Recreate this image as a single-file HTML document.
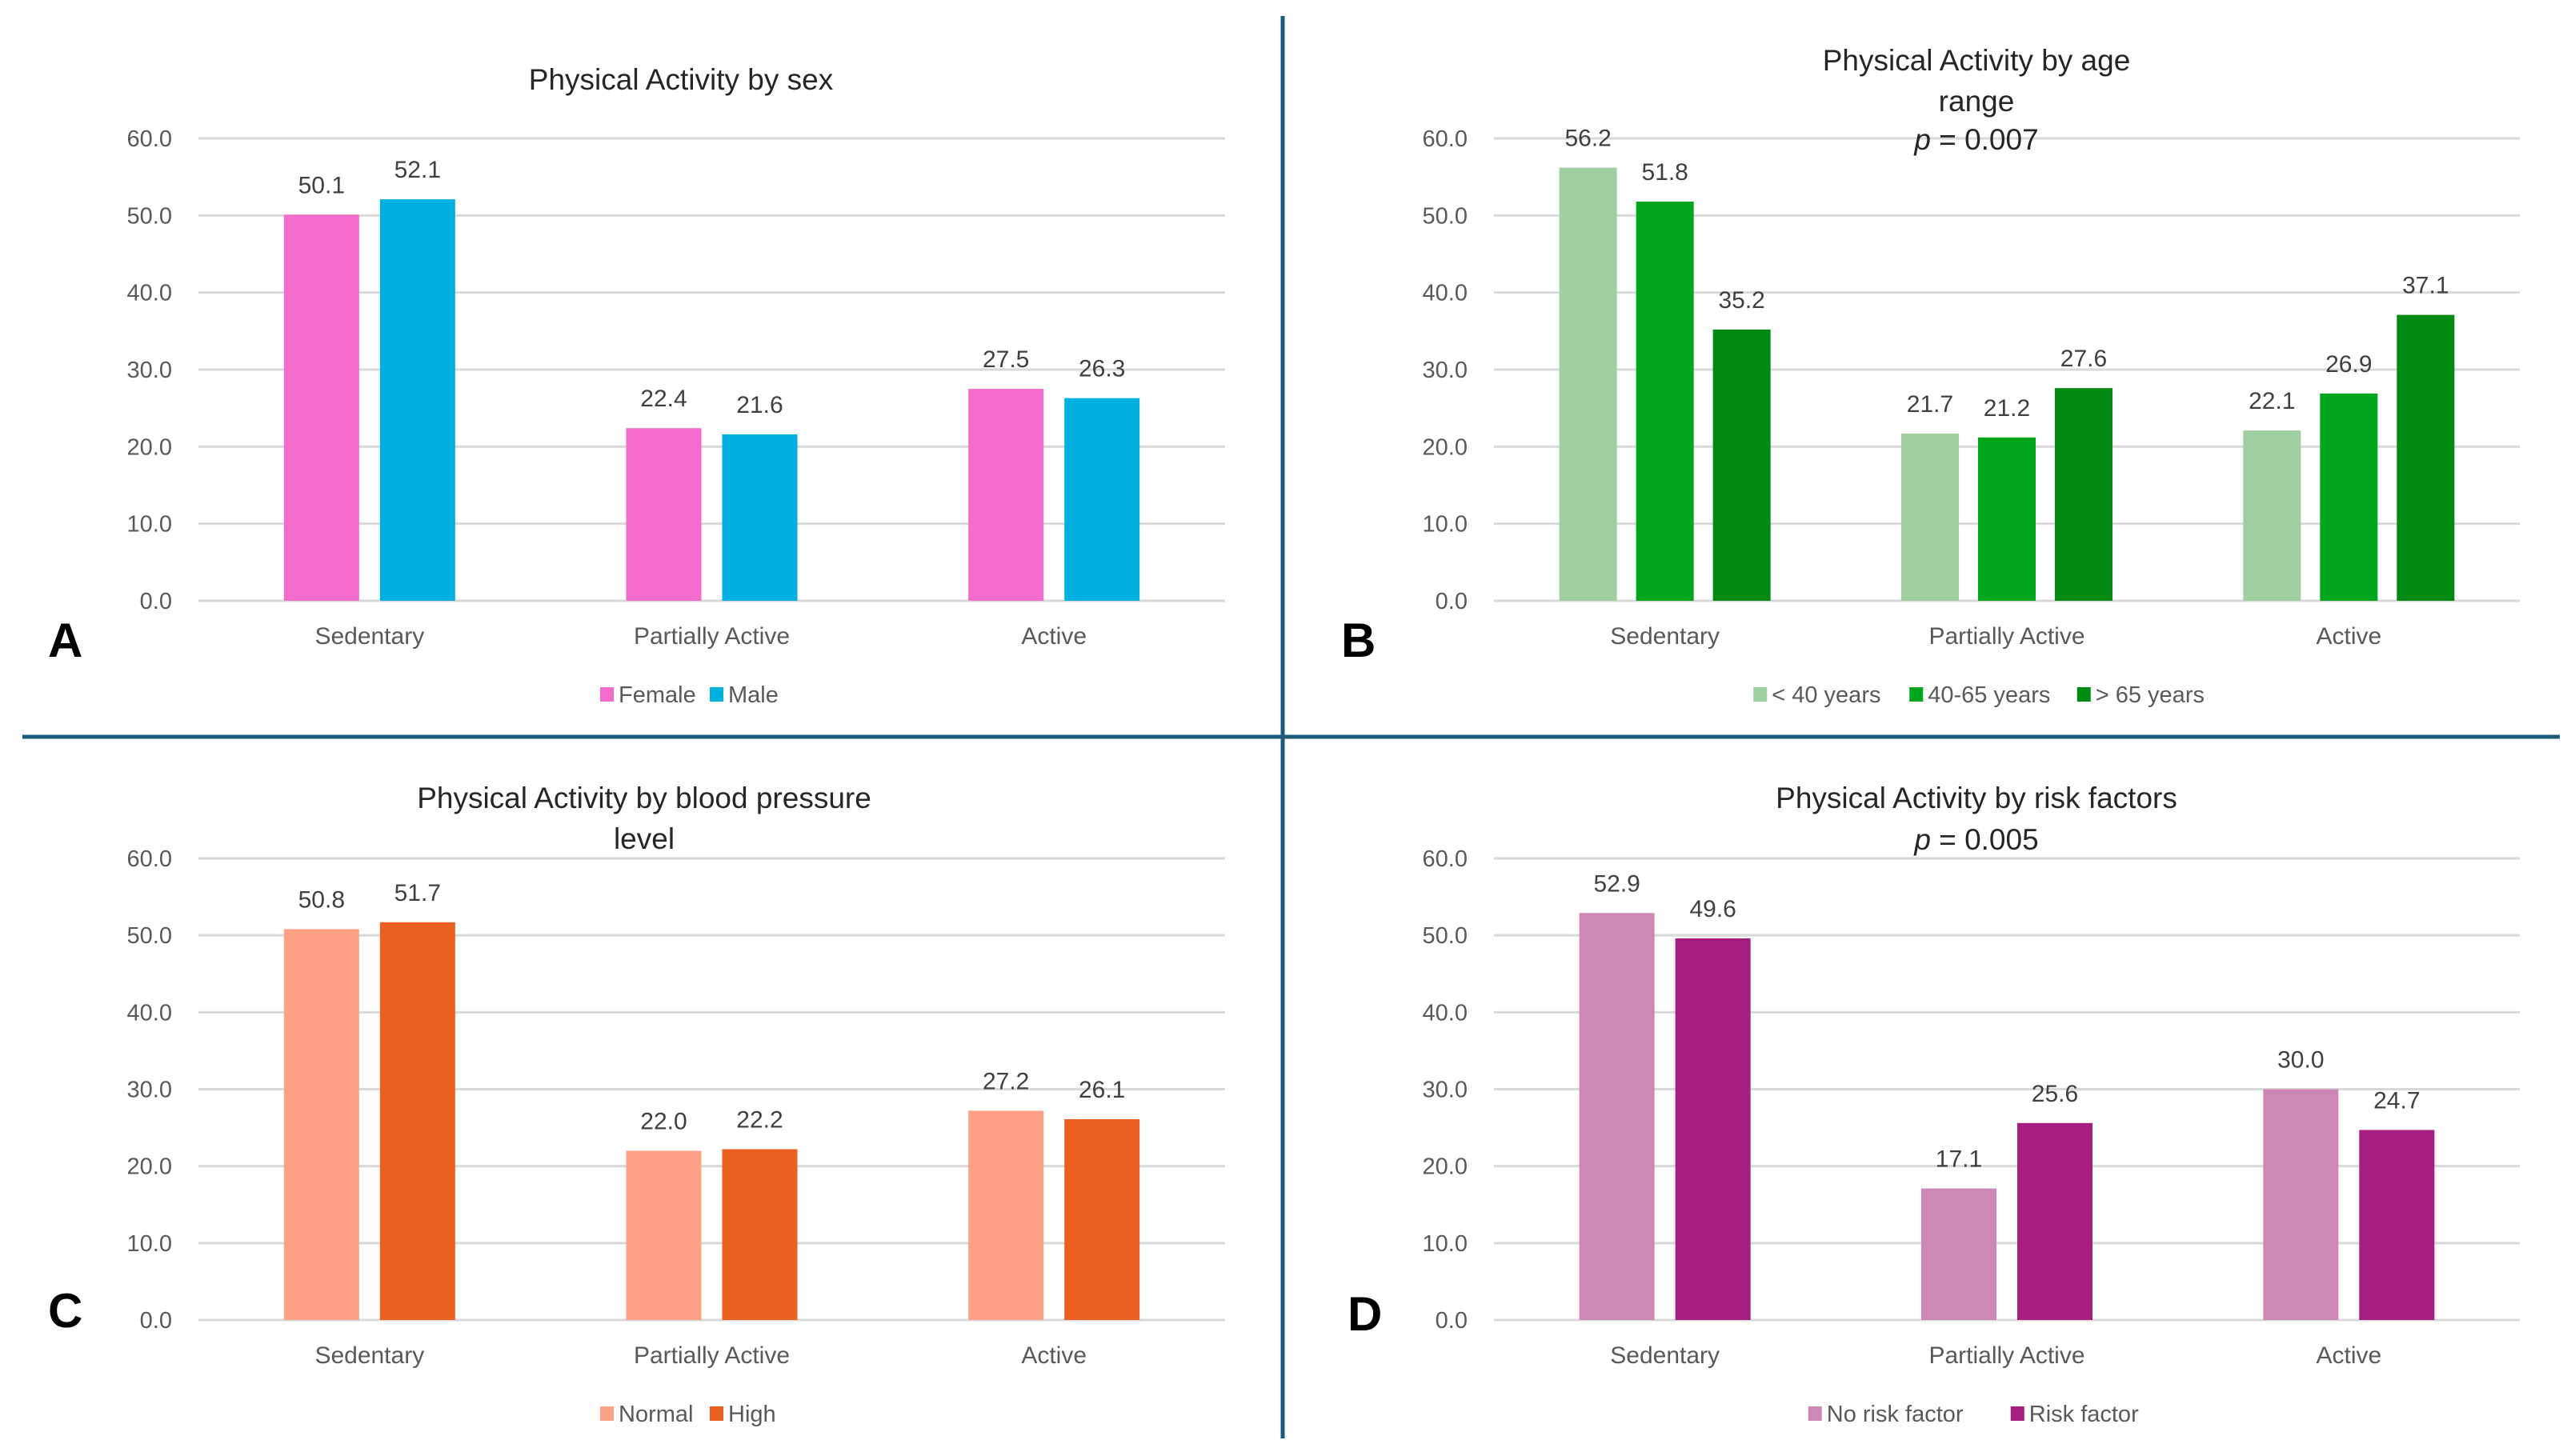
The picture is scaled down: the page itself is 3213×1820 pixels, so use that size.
<!DOCTYPE html>
<html><head><meta charset="utf-8">
<style>
html,body{margin:0;padding:0;background:#fff;}
svg{display:block;font-family:"Liberation Sans",Arial,sans-serif;}
</style></head>
<body>
<svg id="fig" width="3213" height="1820" viewBox="0 0 3213 1820" xmlns="http://www.w3.org/2000/svg">
<rect width="3213" height="1820" fill="#fff"/>
<line x1="1603" y1="20" x2="1603" y2="1798" stroke="#1b5b79" stroke-width="5"/>
<line x1="28" y1="921" x2="3199" y2="921" stroke="#1b5b79" stroke-width="5"/>
</svg>
<script>
const categories = ["Sedentary","Partially Active","Active"];
const yTicks = [0,10,20,30,40,50,60];
const yTickLabels = ["0.0","10.0","20.0","30.0","40.0","50.0","60.0"];

const sexSeriesNames = ["Female","Male"];
const sexFemale = [50.1,22.4,27.5];
const sexMale = [52.1,21.6,26.3];

const ageSeriesNames = ["< 40 years","40-65 years","> 65 years"];
const ageUnder40 = [56.2,21.7,22.1];
const age40to65 = [51.8,21.2,26.9];
const ageOver65 = [35.2,27.6,37.1];

const bpSeriesNames = ["Normal","High"];
const bpNormal = [50.8,22.0,27.2];
const bpHigh = [51.7,22.2,26.1];

const riskSeriesNames = ["No risk factor","Risk factor"];
const riskNone = [52.9,17.1,30.0];
const riskPresent = [49.6,25.6,24.7];

const NS = "http://www.w3.org/2000/svg";
const svg = document.getElementById("fig");
function mk(tag, attrs, parent){
  const e = document.createElementNS(NS, tag);
  for (const k in attrs) e.setAttribute(k, attrs[k]);
  (parent||svg).appendChild(e);
  return e;
}

function panel(cfg){
  const g = mk("g", {});
  
  
  const x0 = cfg.x0, x1 = cfg.x1, yTop = cfg.yTop, yBot = cfg.yBot;
  const yScale = v => yBot - (v/60)*(yBot-yTop);
  const catW = (x1-x0)/categories.length;
  const xCat = i => x0 + catW*(i+0.5);
  // gridlines & ticks
  yTicks.forEach((t,i)=>{
    const gl = mk("line",{x1:x0,x2:x1,y1:yScale(t),y2:yScale(t),stroke:"#d9d9d9","stroke-width":3},g);
    
    
    const tl = mk("text",{x:cfg.tickX,y:yScale(t)+10,"text-anchor":"end","font-size":29,fill:"#595959"},g);
    
    
    tl.textContent = yTickLabels[i];
  });
  // bars
  const n = cfg.series.length;
  const bw = cfg.barW, gap = cfg.gap;
  const span = n*bw + (n-1)*gap;
  cfg.series.forEach((vals,s)=>{
    vals.forEach((v,i)=>{
      const bx = xCat(i) - span/2 + s*(bw+gap);
      const r = mk("rect",{x:bx,y:yScale(v),width:bw,height:yBot-yScale(v),fill:cfg.colors[s]},g);
      
      
      const lb = mk("text",{x:bx+bw/2,y:yScale(v)-27,"text-anchor":"middle","font-size":30,fill:"#404040"},g);
      
      
      lb.textContent = v.toFixed(1);
    });
  });
  // category labels
  categories.forEach((c,i)=>{
    const t = mk("text",{x:xCat(i),y:cfg.catY+11,"text-anchor":"middle","font-size":30,fill:"#595959"},g);
    
    
    t.textContent = c;
  });
  // title
  cfg.titleLines.forEach((ln,i)=>{
    const t = mk("text",{x:cfg.titleX,y:cfg.titleY[i]+13,"text-anchor":"middle","font-size":37,fill:"#262626"},g);
    
    
    t.textContent = ln;
  });
  if (cfg.pText){
    const t = mk("text",{x:cfg.titleX,y:cfg.pY+13,"text-anchor":"middle","font-size":37,fill:"#262626"},g);
    
    
    const a = mk("tspan",{"font-style":"italic"},t); a.textContent = "p";
    const b = mk("tspan",{},t); b.textContent = " = " + cfg.pText;
  }
  // legend
  const lg = mk("g",{},g);
  
  
  let widths = cfg.seriesNames.map(nm => 24 + nm.length*14.5);
  const total = widths.reduce((a,b)=>a+b,0) + (n-1)*26;
  let lx = (x0+x1)/2 - 30 - total/2;
  cfg.seriesNames.forEach((nm,s)=>{
    const sq = mk("rect",{x:lx,y:cfg.legY-9,width:17,height:18,fill:cfg.colors[s]},lg);
    
    
    const t = mk("text",{x:lx+23,y:cfg.legY+10,"font-size":29,fill:"#595959"},lg);
    
    
    t.textContent = nm;
    lx += widths[s] + 26;
  });
  // panel letter
  const L = mk("text",{x:cfg.letterX,y:cfg.letterY+21,"font-size":60,"font-weight":"bold",fill:"#000"},g);
  
  
  L.textContent = cfg.letter;
}

panel({name:"panel-a-sex",key:"sex",x0:248,x1:1531,yTop:173,yBot:751,tickX:215,
  series:[sexFemale,sexMale],seriesNames:sexSeriesNames,colors:["#f36ccb","#00b0e0"],barW:94,gap:26,
  catY:794,titleLines:["Physical Activity by sex"],titleX:851,titleY:[99],legY:868,letter:"A",letterX:60,letterY:800});
panel({name:"panel-b-age",key:"age",x0:1867,x1:3149,yTop:173,yBot:751,tickX:1834,
  series:[ageUnder40,age40to65,ageOver65],seriesNames:ageSeriesNames,colors:["#9fcea0","#00a61e","#008a12"],barW:72,gap:24,
  catY:794,titleLines:["Physical Activity by age","range"],titleX:2470,titleY:[75,126],pText:"0.007",pY:174,legY:868,letter:"B",letterX:1676,letterY:800});
panel({name:"panel-c-blood-pressure",key:"bp",x0:248,x1:1531,yTop:1073,yBot:1650,tickX:215,
  series:[bpNormal,bpHigh],seriesNames:bpSeriesNames,colors:["#ffa187","#e96020"],barW:94,gap:26,
  catY:1693,titleLines:["Physical Activity by blood pressure","level"],titleX:805,titleY:[997,1048],legY:1767,letter:"C",letterX:60,letterY:1638});
panel({name:"panel-d-risk-factors",key:"risk",x0:1867,x1:3149,yTop:1073,yBot:1650,tickX:1834,
  series:[riskNone,riskPresent],seriesNames:riskSeriesNames,colors:["#cc88b5","#a51e80"],barW:94,gap:26,
  catY:1693,titleLines:["Physical Activity by risk factors"],titleX:2470,titleY:[997],pText:"0.005",pY:1049,legY:1767,letter:"D",letterX:1684,letterY:1642});
</script>
</body></html>
